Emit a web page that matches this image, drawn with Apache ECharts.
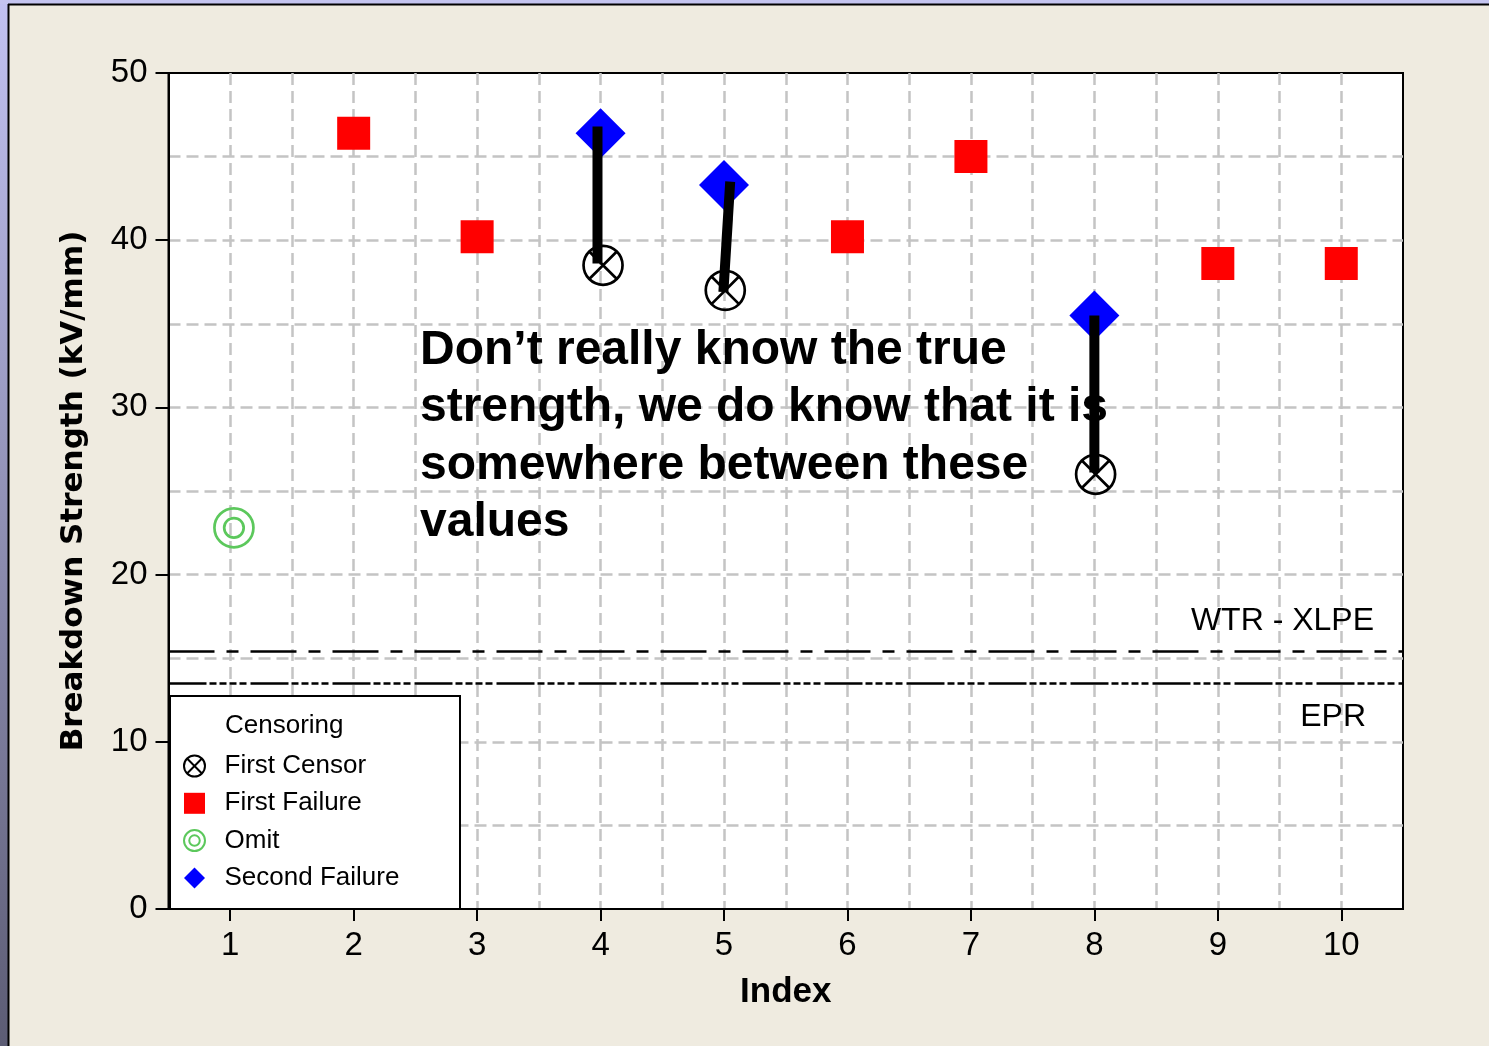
<!DOCTYPE html>
<html>
<head>
<meta charset="utf-8">
<script src="https://cdn.jsdelivr.net/npm/echarts@6/dist/echarts.min.js"></script>
<style>
  html, body { margin: 0; padding: 0; background: #efebe0; }
  #main { width: 1489px; height: 1046px; }
</style>
</head>
<body>
<div id="main"></div>
<script>
// data
var xTicks = [1, 2, 3, 4, 5, 6, 7, 8, 9, 10];
var yTicks = [0, 10, 20, 30, 40, 50];

var firstFailureX = [2, 3, 6, 7, 9, 10];
var firstFailureY = [46.4, 40.2, 40.2, 45.0, 38.6, 38.6];

var secondFailureX = [4, 5, 8];
var secondFailureY = [46.4, 43.3, 35.5];

var firstCensorX = [4.02, 5.01, 8.01];
var firstCensorY = [38.5, 37.0, 26.0];

var omitX = [1.03];
var omitY = [22.8];

// hand drawn "true value is in here" bars: top and bottom end
var rangeTop = [[3.975, 46.8], [5.05, 43.5], [8.0, 35.5]];
var rangeBottom = [[3.975, 38.6], [4.995, 36.9], [8.0, 26.1]];

var refNames = ['WTR - XLPE', 'EPR'];
var refValues = [15.4, 13.5];

var legendNames = ['First Censor', 'First Failure', 'Omit', 'Second Failure'];

var noteText = 'Don\u2019t really know the true\nstrength, we do know that it is\nsomewhere between these\nvalues';

function zip(xs, ys) {
  return xs.map(function (x, i) { return [x, ys[i]]; });
}

// path symbols keep their aspect in the legend
var censorPath = 'path://M1,0 A1,1 0 1,1 -1,0 A1,1 0 1,1 1,0 Z M-0.707,-0.707 L0.707,0.707 M-0.707,0.707 L0.707,-0.707';
var omitPath = 'path://M1,0 A1,1 0 1,1 -1,0 A1,1 0 1,1 1,0 Z M0.5,0 A0.5,0.5 0 1,1 -0.5,0 A0.5,0.5 0 1,1 0.5,0 Z';
var squarePath = 'path://M0,0 L1,0 L1,1 L0,1 Z';
var diamondPath = 'path://M0,-1 L1,0 L0,1 L-1,0 Z';

var reg = '"Liberation Sans", Arial, sans-serif';

var myChart = echarts.init(document.getElementById('main'));

var series = [
  {
    name: 'First Censor', type: 'scatter', xAxisIndex: 0, yAxisIndex: 0,
    symbol: censorPath, symbolSize: 39,
    itemStyle: { color: 'rgba(0,0,0,0)', borderColor: '#000', borderWidth: 2.7, opacity: 1 },
    data: zip(firstCensorX, firstCensorY), z: 3
  },
  {
    name: 'First Failure', type: 'scatter', xAxisIndex: 0, yAxisIndex: 0,
    symbol: squarePath, symbolSize: 33,
    itemStyle: { color: '#ff0000', opacity: 1 },
    data: zip(firstFailureX, firstFailureY), z: 2
  },
  {
    name: 'Omit', type: 'scatter', xAxisIndex: 0, yAxisIndex: 0,
    symbol: omitPath, symbolSize: 39,
    itemStyle: { color: 'rgba(0,0,0,0)', borderColor: '#5cc85c', borderWidth: 2.7, opacity: 1 },
    data: zip(omitX, omitY), z: 2
  },
  {
    name: 'Second Failure', type: 'scatter', xAxisIndex: 0, yAxisIndex: 0,
    symbol: diamondPath, symbolSize: 50,
    itemStyle: { color: '#0000ff', opacity: 1 },
    data: zip(secondFailureX, secondFailureY), z: 2
  },
  {
    name: 'ref', type: 'scatter', xAxisIndex: 0, yAxisIndex: 0, data: [],
    markLine: {
      silent: true, symbol: 'none', animation: false,
      label: { formatter: '{b}', color: '#000', fontFamily: reg, fontSize: 32 },
      data: [
        {
          name: refNames[0], yAxis: refValues[0],
          lineStyle: { color: '#000', width: 2.5, type: [46, 12, 12, 12] },
          label: { position: 'insideEndTop', distance: [29, 14] }
        },
        {
          name: refNames[1], yAxis: refValues[1],
          lineStyle: { color: '#000', width: 2.5, type: [38, 3, 7, 3, 7, 3, 7, 3, 7, 4] },
          label: { position: 'insideEndBottom', distance: [37, 18] }
        }
      ]
    }
  }
];

rangeTop.forEach(function (p, i) {
  series.push({
    name: 'range' + i, type: 'line', xAxisIndex: 0, yAxisIndex: 0,
    symbol: 'none', silent: true, z: 4,
    lineStyle: { color: '#000', width: 10, cap: 'butt' },
    data: [p, rangeBottom[i]]
  });
});

var option = {
  animation: false,
  backgroundColor: '#efebe0',
  grid: {
    left: 168.5, right: 86, top: 73, bottom: 137,
    show: true, backgroundColor: '#fff', borderColor: '#000', borderWidth: 2
  },
  xAxis: [
    {
      type: 'value', min: 0.5, max: 10.5, interval: 0.5, position: 'bottom',
      name: 'Index', nameLocation: 'middle', nameGap: 66,
      nameTextStyle: { fontFamily: reg, fontWeight: 'bold', fontSize: 35, color: '#000' },
      axisLine: { show: true, lineStyle: { color: '#000', width: 2 } },
      axisTick: { show: false },
      axisLabel: { show: false },
      splitLine: { show: true, showMinLine: false, showMaxLine: false,
        lineStyle: { color: '#c4c4c4', width: 2.5, type: [12, 6] } }
    },
    {
      type: 'value', min: 0.5, max: 10.5, position: 'bottom',
      axisLine: { show: false },
      axisTick: { show: true, length: 12, customValues: xTicks, lineStyle: { color: '#000', width: 2 } },
      axisLabel: { customValues: xTicks, margin: 20, fontFamily: reg, fontSize: 33, color: '#000' },
      splitLine: { show: false }
    }
  ],
  yAxis: [
    {
      type: 'value', min: 0, max: 50, interval: 5, position: 'left',
      name: 'Breakdown Strength (kV/mm)', nameLocation: 'middle', nameGap: 79,
      nameTextStyle: { fontFamily: '"DejaVu Sans", sans-serif', fontWeight: 'bold', fontSize: 31, color: '#000' },
      axisLine: { show: true, lineStyle: { color: '#000', width: 2 } },
      axisTick: { show: false },
      axisLabel: { show: false },
      splitLine: { show: true, showMinLine: false, showMaxLine: false,
        lineStyle: { color: '#c4c4c4', width: 2.5, type: [12, 6] } }
    },
    {
      type: 'value', min: 0, max: 50, interval: 10, position: 'left',
      axisLine: { show: false },
      axisTick: { show: true, length: 13, lineStyle: { color: '#000', width: 2 } },
      axisLabel: { margin: 21, fontFamily: reg, fontSize: 33, color: '#000' },
      splitLine: { show: false }
    }
  ],
  legend: {
    data: legendNames,
    orient: 'vertical',
    left: 183, top: 753,
    padding: 0,
    itemWidth: 50, itemHeight: 21, itemGap: 11.3,
    selectedMode: false,
    textStyle: { fontFamily: reg, fontSize: 26, color: '#000' },
    z: 6
  },
  graphic: [
    { type: 'rect', z: -1, shape: { x: 0, y: 0, width: 9, height: 1046 },
      style: { fill: new echarts.graphic.LinearGradient(0, 0, 0, 1, [
        { offset: 0, color: '#c2c2f2' }, { offset: 1, color: '#5c5c74' }]) } },
    { type: 'rect', z: -1, shape: { x: 0, y: 0, width: 1489, height: 4 },
      style: { fill: '#c4c4f0' } },
    { type: 'line', z: 0, shape: { x1: 8.5, y1: 4, x2: 8.5, y2: 1046 },
      style: { stroke: '#000', lineWidth: 2 } },
    { type: 'line', z: 0, shape: { x1: 8, y1: 4.5, x2: 1489, y2: 4.5 },
      style: { stroke: '#000', lineWidth: 2 } },
    // legend frame
    { type: 'rect', z: 5, shape: { x: 170, y: 696, width: 290, height: 213 },
      style: { fill: '#fff', stroke: '#000', lineWidth: 2 } },
    { type: 'text', z: 7, x: 225, y: 726,
      style: { text: 'Censoring', font: '26px ' + reg, fill: '#000', align: 'left', verticalAlign: 'middle' } },
    // annotation
    { type: 'text', z: 7, x: 420, y: 322,
      style: { text: noteText, font: 'bold 48px ' + reg, fill: '#000', lineHeight: 57.5,
        align: 'left', verticalAlign: 'top' } }
  ],
  series: series
};

myChart.setOption(option);
window.onresize = myChart.resize;
</script>
</body>
</html>
